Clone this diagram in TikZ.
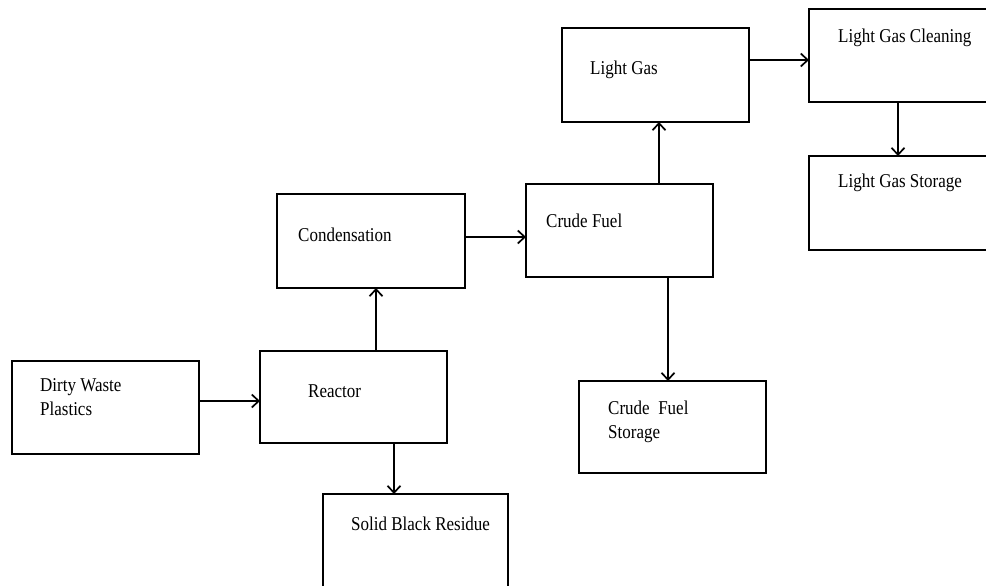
\documentclass[tikz,border=0pt]{standalone}
\usepackage{fontspec}
\setmainfont{Liberation Serif}
\usetikzlibrary{arrows.meta}
\newcommand\vstr[1]{\scalebox{1}[1.15]{#1}}
\begin{document}
\begin{tikzpicture}[x=1pt,y=-1pt,
  box/.style={draw, line width=2pt, inner sep=0pt, outer sep=0pt, anchor=north west},
  lbl/.style={anchor=west, inner sep=0pt, font=\fontsize{17}{23.5}\selectfont, align=left},
  arr/.style={line width=2pt, -{Straight Barb[length=7pt,width=13pt,line width=1.7pt]}}]
\useasboundingbox (0,0) rectangle (986,586);
\node[box, minimum width=187pt, minimum height=93pt] (dirty) at (12,361) {};
\node[box, minimum width=187pt, minimum height=92pt] (reactor) at (260,351) {};
\node[box, minimum width=185pt, minimum height=110pt] (residue) at (323,494) {};
\node[box, minimum width=188pt, minimum height=94pt] (cond) at (277,194) {};
\node[box, minimum width=187pt, minimum height=93pt] (crude) at (526,184) {};
\node[box, minimum width=187pt, minimum height=92pt] (cstore) at (579,381) {};
\node[box, minimum width=187pt, minimum height=94pt] (lgas) at (562,28) {};
\node[box, minimum width=200pt, minimum height=93pt] (lgc) at (809,9) {};
\node[box, minimum width=200pt, minimum height=94pt] (lgs) at (809,156) {};
\node[lbl] (tdirty) at (40,397) {\vstr{Dirty Waste}\\\vstr{Plastics}};
\node[lbl] (treactor) at (308,391) {\vstr{Reactor}};
\node[lbl] (tresidue) at (351,524) {\vstr{Solid Black Residue}};
\node[lbl] (tcond) at (298,235) {\vstr{Condensation}};
\node[lbl] (tcrude) at (546,221) {\vstr{Crude Fuel}};
\node[lbl] (tcstore) at (608,422) {\vstr{Crude\ \ Fuel}\\\vstr{Storage}};
\node[lbl] (tlgas) at (590,70) {\vstr{Light Gas}};
\node[lbl] (tlgc) at (838,38) {\vstr{Light Gas Cleaning}};
\node[lbl] (tlgs) at (838,183) {\vstr{Light Gas Storage}};
\coordinate (y1) at (0,401);
\coordinate (y2) at (0,237);
\coordinate (y3) at (0,60);
\coordinate (x1) at (376,0);
\coordinate (x2) at (394,0);
\coordinate (x3) at (659,0);
\coordinate (x4) at (668,0);
\coordinate (x5) at (898,0);
\draw[arr] (dirty.east |- y1) -- (reactor.west |- y1);
\draw[arr] (x1 |- reactor.north) -- (x1 |- cond.south);
\draw[arr] (x2 |- reactor.south) -- (x2 |- residue.north);
\draw[arr] (cond.east |- y2) -- (crude.west |- y2);
\draw[arr] (x3 |- crude.north) -- (x3 |- lgas.south);
\draw[arr] (x4 |- crude.south) -- (x4 |- cstore.north);
\draw[arr] (lgas.east |- y3) -- (lgc.west |- y3);
\draw[arr] (x5 |- lgc.south) -- (x5 |- lgs.north);
\end{tikzpicture}
\end{document}
